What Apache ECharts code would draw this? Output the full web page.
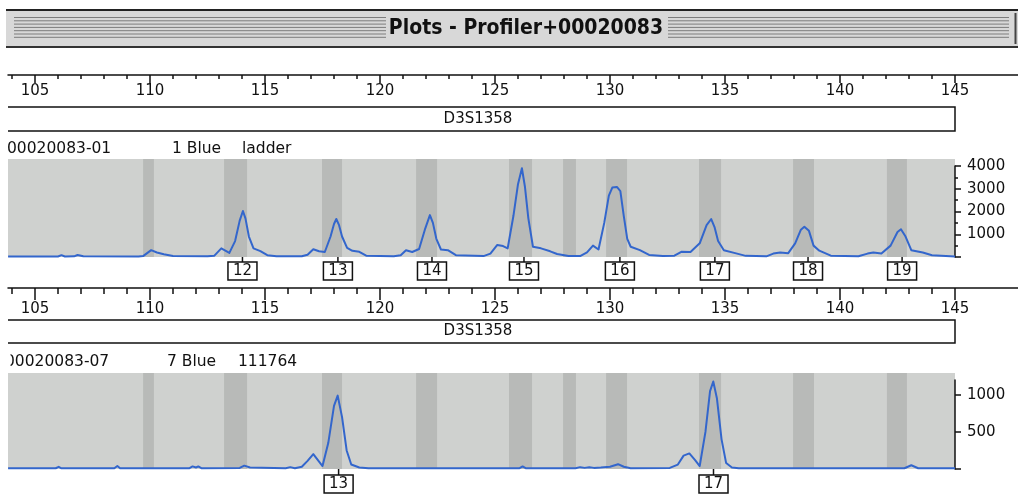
<!DOCTYPE html>
<html><head><meta charset="utf-8">
<script src="https://cdn.jsdelivr.net/npm/echarts@6/dist/echarts.min.js"></script>
<style>html,body{margin:0;padding:0;background:#fff;overflow:hidden}#c{width:1018px;height:495px}</style>
</head><body><div id="c"></div>
<script>
// ---------- data ----------
const titleText = 'Plots - Profiler+00020083';
const locusName = 'D3S1358';
const sizeMin = 103.826, sizeMax = 145, axisLineMax = 147.74;
const minorTickSizes = [104,105,106,107,108,109,110,111,112,113,114,115,116,117,118,119,120,121,122,123,124,125,126,127,128,129,130,131,132,133,134,135,136,137,138,139,140,141,142,143,144,145];
const majorTickSizes = [105,110,115,120,125,130,135,140,145];
const binStarts = [109.70,113.22,117.48,121.57,125.61,127.96,129.83,133.87,137.96,142.04];
const binEnds   = [110.17,114.22,118.35,122.48,126.61,128.52,130.74,134.83,138.87,142.91];
const sample1 = ['00020083-01','1 Blue','ladder'];
const sample2 = ['00020083-07','7 Blue','111764'];
const rfuTicks1 = [1000,2000,3000,4000];
const rfuTickMarks2 = [0,500,1000];
const rfuTicks2 = [500,1000];
const alleleNames1 = ['12','13','14','15','16','17','18','19'];
const allelePos1 = [114.02,118.17,122.26,126.26,130.43,134.56,138.61,142.70];
const alleleNames2 = ['13','17'];
const allelePos2 = [118.2,134.5];
const trace1 = [[103.83,20],[106.0,20],[106.15,80],[106.3,20],[106.7,30],[106.85,90],[107.1,30],[109.5,20],[109.7,40],[110.05,300],[110.3,200],[110.6,120],[111.0,40],[112.5,30],[112.8,60],[113.1,380],[113.45,180],[113.7,700],[113.9,1600],[114.04,2020],[114.15,1700],[114.3,900],[114.5,380],[114.8,260],[115.1,80],[115.5,30],[116.6,30],[116.85,100],[117.1,340],[117.35,250],[117.6,220],[117.85,900],[118.0,1450],[118.1,1670],[118.22,1400],[118.35,900],[118.57,400],[118.8,270],[119.1,230],[119.4,60],[120.6,30],[120.9,80],[121.13,300],[121.4,220],[121.7,350],[121.95,1200],[122.17,1840],[122.3,1500],[122.45,800],[122.65,330],[122.95,300],[123.3,80],[124.5,40],[124.8,150],[125.1,530],[125.35,480],[125.55,380],[125.8,1800],[126.0,3200],[126.17,3900],[126.3,3100],[126.45,1700],[126.65,450],[127.0,380],[127.4,250],[127.7,130],[128.2,40],[128.7,40],[129.0,200],[129.26,500],[129.5,330],[129.75,1500],[129.95,2700],[130.1,3050],[130.3,3080],[130.45,2900],[130.6,1800],[130.75,800],[130.9,450],[131.3,300],[131.7,90],[132.3,40],[132.8,60],[133.1,230],[133.5,220],[133.9,600],[134.2,1400],[134.4,1670],[134.55,1300],[134.7,700],[134.95,300],[135.4,180],[135.9,50],[136.8,30],[137.1,150],[137.4,200],[137.75,170],[138.05,600],[138.3,1200],[138.45,1330],[138.65,1150],[138.85,500],[139.1,280],[139.6,60],[140.8,30],[141.2,150],[141.45,200],[141.8,150],[142.2,500],[142.5,1100],[142.65,1220],[142.85,900],[143.1,300],[143.6,200],[144.0,80],[145.0,20]];
const trace2 = [[103.83,10],[105.9,10],[106.03,30],[106.15,10],[108.45,10],[108.58,40],[108.7,10],[111.7,10],[111.85,35],[112.0,20],[112.1,35],[112.25,10],[113.9,15],[114.1,45],[114.35,20],[115.9,10],[116.1,25],[116.3,10],[116.6,30],[116.85,110],[117.1,200],[117.3,120],[117.5,40],[117.75,350],[118.0,850],[118.16,990],[118.35,700],[118.55,250],[118.75,60],[119.1,20],[119.5,10],[126.05,10],[126.2,35],[126.35,10],[128.5,10],[128.7,25],[128.9,15],[129.1,25],[129.3,15],[129.6,20],[130.0,30],[130.35,65],[130.6,30],[130.9,10],[132.6,15],[132.95,60],[133.2,180],[133.45,210],[133.7,120],[133.9,40],[134.15,500],[134.35,1050],[134.49,1180],[134.65,950],[134.85,400],[135.05,80],[135.3,20],[135.6,10],[142.8,10],[143.1,50],[143.4,10],[145.0,10]];

// ---------- styles ----------
const FONT = 'DejaVu Sans';
const INK = '#111';
const BG = '#cfd1cf';
const BAND = '#b8bab8';
const TRACE = '#3366cc';

const chart = echarts.init(document.getElementById('c'), null, {renderer: 'canvas'});
const plain = v => String(v);

function topAxes(grid, minorLen, majorLen, margin) {
  return [
    {gridIndex: grid, type: 'value', min: sizeMin, max: axisLineMax, position: 'bottom',
     axisLine: {show: true, onZero: false, lineStyle: {color: INK, width: 1.5}},
     axisTick: {show: true, customValues: minorTickSizes, length: minorLen, lineStyle: {color: INK, width: 1.5}},
     axisLabel: {show: false}, splitLine: {show: false}},
    {gridIndex: grid, type: 'value', min: sizeMin, max: axisLineMax, position: 'bottom',
     axisLine: {show: false, onZero: false},
     axisTick: {show: true, customValues: majorTickSizes, length: majorLen, lineStyle: {color: INK, width: 1.5}},
     axisLabel: {show: true, customValues: majorTickSizes, formatter: plain, margin: margin, color: INK, fontFamily: FONT, fontSize: 15},
     splitLine: {show: false}}
  ];
}
function hiddenX(grid) {
  return {gridIndex: grid, type: 'value', min: sizeMin, max: sizeMax, show: false};
}
function hiddenY(grid, max) {
  return {gridIndex: grid, type: 'value', min: 0, max: max, show: false};
}
function bandSeries(xi, yi) {
  return {
    type: 'custom', xAxisIndex: xi, yAxisIndex: yi, silent: true,
    data: binStarts.map((s, i) => [s, binEnds[i], 0]),
    encode: {x: [0, 1], y: 2},
    renderItem: function (params, api) {
      const a = api.coord([api.value(0), 0]);
      const b = api.coord([api.value(1), 0]);
      const cs = params.coordSys;
      return {type: 'rect', shape: {x: a[0], y: cs.y, width: b[0] - a[0], height: cs.height}, style: {fill: BAND}};
    }
  };
}
function alleleSeries(xi, yi, pos, names, gap) {
  return {
    type: 'custom', xAxisIndex: xi, yAxisIndex: yi, silent: true, clip: false, z: 5,
    data: pos.map(p => [p, 0]),
    renderItem: function (params, api) {
      const p = api.coord([api.value(0), 0]);
      const name = names[params.dataIndex];
      return {type: 'group', children: [
        {type: 'line', shape: {x1: p[0], y1: p[1], x2: p[0], y2: p[1] + gap}, style: {stroke: INK, lineWidth: 1.5}},
        {type: 'rect', shape: {x: p[0] - 14.5, y: p[1] + gap, width: 29, height: 18}, style: {fill: '#fff', stroke: INK, lineWidth: 1.5}},
        {type: 'text', style: {text: name, x: p[0], y: p[1] + gap + 9.5, align: 'center', verticalAlign: 'middle', font: '15px "' + FONT + '"', fill: INK}}
      ]};
    }
  };
}
function traceSeries(xi, yi, data) {
  return {type: 'line', xAxisIndex: xi, yAxisIndex: yi, data: data, showSymbol: false, symbol: 'none',
          smooth: false, silent: true, z: 4,
          lineStyle: {color: TRACE, width: 2, join: 'round'}};
}

// ---------- graphics (frame & labels) ----------
const stripeYs = [17.5, 20.8, 24.1, 27.4, 30.7, 34.0, 37.3];
const graphics = [];
graphics.push({type: 'rect', shape: {x: 6, y: 9, width: 1012, height: 39}, style: {fill: '#d8d8d8'}, z: 0});
graphics.push({type: 'line', shape: {x1: 6, y1: 10, x2: 1018, y2: 10}, style: {stroke: '#222', lineWidth: 2}});
graphics.push({type: 'line', shape: {x1: 6, y1: 47, x2: 1018, y2: 47}, style: {stroke: '#333', lineWidth: 2}});
graphics.push({type: 'line', shape: {x1: 1015.5, y1: 13, x2: 1015.5, y2: 44}, style: {stroke: '#444', lineWidth: 2}});
stripeYs.forEach(y => {
  graphics.push({type: 'line', shape: {x1: 14, y1: y, x2: 386, y2: y}, style: {stroke: '#7c7c7c', lineWidth: 1}});
  graphics.push({type: 'line', shape: {x1: 668, y1: y, x2: 1009, y2: y}, style: {stroke: '#7c7c7c', lineWidth: 1}});
});
graphics.push({type: 'text', style: {text: titleText, x: 526, y: 29, align: 'center', verticalAlign: 'middle',
  font: 'bold 21px "DejaVu Sans Condensed", "DejaVu Sans"', fill: '#111'}});
// locus boxes
[[107, 131, 119], [320, 343, 331.5]].forEach(b => {
  graphics.push({type: 'polyline', shape: {points: [[8, b[0]], [955, b[0]], [955, b[1]], [8, b[1]]]}, style: {stroke: INK, lineWidth: 1.5, fill: null}});
  graphics.push({type: 'text', style: {text: locusName, x: 478, y: b[2], align: 'center', verticalAlign: 'middle', font: '15px "' + FONT + '"', fill: INK}});
});
// sample labels
function sampleLabels(s, xs, y) {
  s.forEach((t, i) => graphics.push({type: 'text', style: {text: t, x: xs[i], y: y, align: 'left', verticalAlign: 'middle', font: '15.5px "' + FONT + '"', fill: INK}}));
}
sampleLabels(sample1, [7, 172, 242], 148.5);
sampleLabels(sample2, [5, 167, 238], 362);
graphics.push({type: 'rect', shape: {x: 0, y: 352, width: 10.5, height: 20}, style: {fill: '#fff'}, z: 100});

const option = {
  animation: false,
  backgroundColor: '#fff',
  grid: [
    {left: 8, width: 1010, top: 60, height: 15},
    {left: 8, width: 947, top: 159, height: 98, show: true, backgroundColor: BG, borderWidth: 0},
    {left: 8, width: 947, top: 166, height: 91},
    {left: 8, width: 1010, top: 273, height: 15},
    {left: 8, width: 947, top: 373, height: 96, show: true, backgroundColor: BG, borderWidth: 0},
    {left: 8, width: 947, top: 380, height: 89}
  ],
  xAxis: [].concat(
    topAxes(0, 4, 8, 9),
    [hiddenX(1), hiddenX(2)],
    topAxes(3, 6, 12, 14),
    [hiddenX(4), hiddenX(5)]
  ),
  yAxis: [
    hiddenY(0, 1),
    hiddenY(1, 4300),
    {gridIndex: 2, type: 'value', min: 0, max: 4000, interval: 1000, position: 'right',
     axisLine: {show: true, onZero: false, lineStyle: {color: INK, width: 1.5}},
     axisTick: {show: true, length: 6, lineStyle: {color: INK, width: 1.5}},
     minorTick: {show: true, splitNumber: 2, length: 3, lineStyle: {color: INK, width: 1.5}},
     axisLabel: {show: true, customValues: rfuTicks1, formatter: plain, margin: 12, color: INK, fontFamily: FONT, fontSize: 15},
     splitLine: {show: false}},
    hiddenY(3, 1),
    hiddenY(4, 1300),
    {gridIndex: 5, type: 'value', min: 0, max: 1200, position: 'right',
     axisLine: {show: true, onZero: false, lineStyle: {color: INK, width: 1.5}},
     axisTick: {show: true, customValues: rfuTickMarks2, length: 6, lineStyle: {color: INK, width: 1.5}},
     axisLabel: {show: true, customValues: rfuTicks2, formatter: plain, margin: 12, color: INK, fontFamily: FONT, fontSize: 15},
     splitLine: {show: false}}
  ],
  series: [
    {type: 'line', xAxisIndex: 0, yAxisIndex: 0, data: []},
    {type: 'line', xAxisIndex: 1, yAxisIndex: 0, data: []},
    bandSeries(2, 1),
    traceSeries(3, 2, trace1),
    alleleSeries(3, 2, allelePos1, alleleNames1, 5),
    {type: 'line', xAxisIndex: 4, yAxisIndex: 3, data: []},
    {type: 'line', xAxisIndex: 5, yAxisIndex: 3, data: []},
    bandSeries(6, 4),
    traceSeries(7, 5, trace2),
    alleleSeries(7, 5, allelePos2, alleleNames2, 6)
  ],
  graphic: {elements: graphics}
};
chart.setOption(option);
</script>
</body></html>
